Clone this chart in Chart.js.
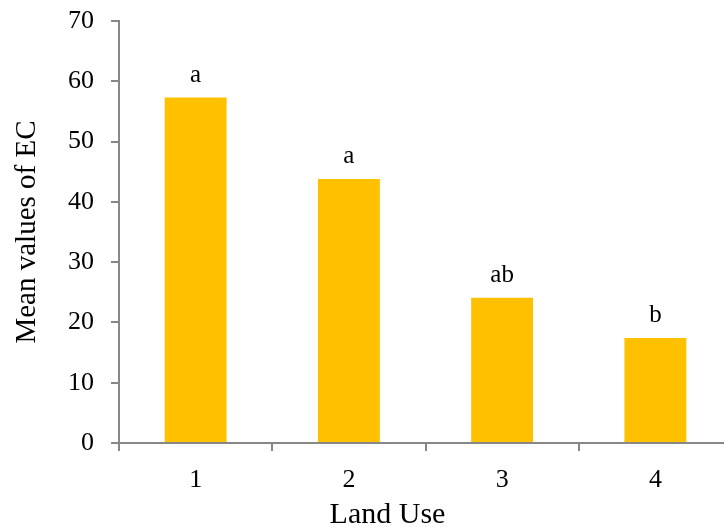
<!DOCTYPE html>
<html>
<head>
<meta charset="utf-8">
<script src="https://cdn.jsdelivr.net/npm/chart.js@4/dist/chart.umd.min.js"></script>
<style>
  html, body { margin: 0; padding: 0; background: #fff; overflow: hidden; }
  #wrap { width: 740px; height: 527px; }
</style>
</head>
<body>
<div id="wrap"><canvas id="ec-chart" width="740" height="527"></canvas></div>
<script>
var landUse = ['1', '2', '3', '4'];
var meanEC = [57.3, 43.8, 24.1, 17.4];
var letters = ['a', 'a', 'ab', 'b'];
var yTicks = [0, 10, 20, 30, 40, 50, 60, 70];
var xTitle = 'Land Use';

var serif = '"Liberation Serif", "DejaVu Serif", serif';
var axisGrey = '#878787';

// significance letters above each bar, plus the x axis title
var letterPlugin = {
    id: 'letters',
    afterDatasetsDraw: function (chart) {
        var ctx = chart.ctx;
        var area = chart.chartArea;
        var bars = chart.getDatasetMeta(0).data;
        ctx.save();
        ctx.fillStyle = '#000';
        ctx.font = '25px ' + serif;
        ctx.textAlign = 'center';
        ctx.textBaseline = 'alphabetic';
        bars.forEach(function (bar, i) {
            ctx.fillText(letters[i], bar.x, bar.y - 16);
        });
        ctx.font = '30px ' + serif;
        ctx.fillText(xTitle, area.left + (area.right - area.left) * 0.438, chart.height - 4);
        ctx.restore();
    }
};

var ctx = document.getElementById('ec-chart').getContext('2d');
var ecChart = new Chart(ctx, {
    type: 'bar',
    data: {
        labels: landUse,
        datasets: [{
            data: meanEC,
            backgroundColor: '#FFC000',
            barPercentage: 0.404,
            categoryPercentage: 1
        }]
    },
    options: {
        responsive: false,
        animation: false,
        layout: { padding: { top: 21, right: 8, left: 0, bottom: 0 } },
        plugins: {
            legend: { display: false },
            tooltip: { enabled: false }
        },
        scales: {
            x: {
                offset: true,
                grid: {
                    offset: true,
                    drawOnChartArea: false,
                    color: axisGrey,
                    tickLength: 8,
                    lineWidth: 2
                },
                border: { color: axisGrey, width: 2 },
                ticks: {
                    color: '#000',
                    font: { family: serif, size: 26 },
                    padding: 14
                },
                afterFit: function (scale) {
                    scale.height = 84;
                    scale.paddingLeft = 0;
                    scale.paddingRight = 0;
                }
            },
            y: {
                min: 0,
                max: 70,
                afterBuildTicks: function (scale) {
                    scale.ticks = yTicks.map(function (v) { return { value: v }; });
                },
                grid: {
                    drawOnChartArea: false,
                    color: axisGrey,
                    tickLength: 8,
                    lineWidth: 2
                },
                border: { color: axisGrey, width: 2 },
                ticks: {
                    color: '#000',
                    font: { family: serif, size: 26 },
                    padding: 17
                },
                title: {
                    display: true,
                    text: 'Mean values of EC',
                    color: '#000',
                    font: { family: serif, size: 29 },
                    padding: { top: 10, bottom: 0 }
                },
                afterFit: function (scale) {
                    scale.width = 119;
                    scale.paddingTop = 0;
                    scale.paddingBottom = 0;
                }
            }
        }
    },
    plugins: [letterPlugin]
});
</script>
</body>
</html>
